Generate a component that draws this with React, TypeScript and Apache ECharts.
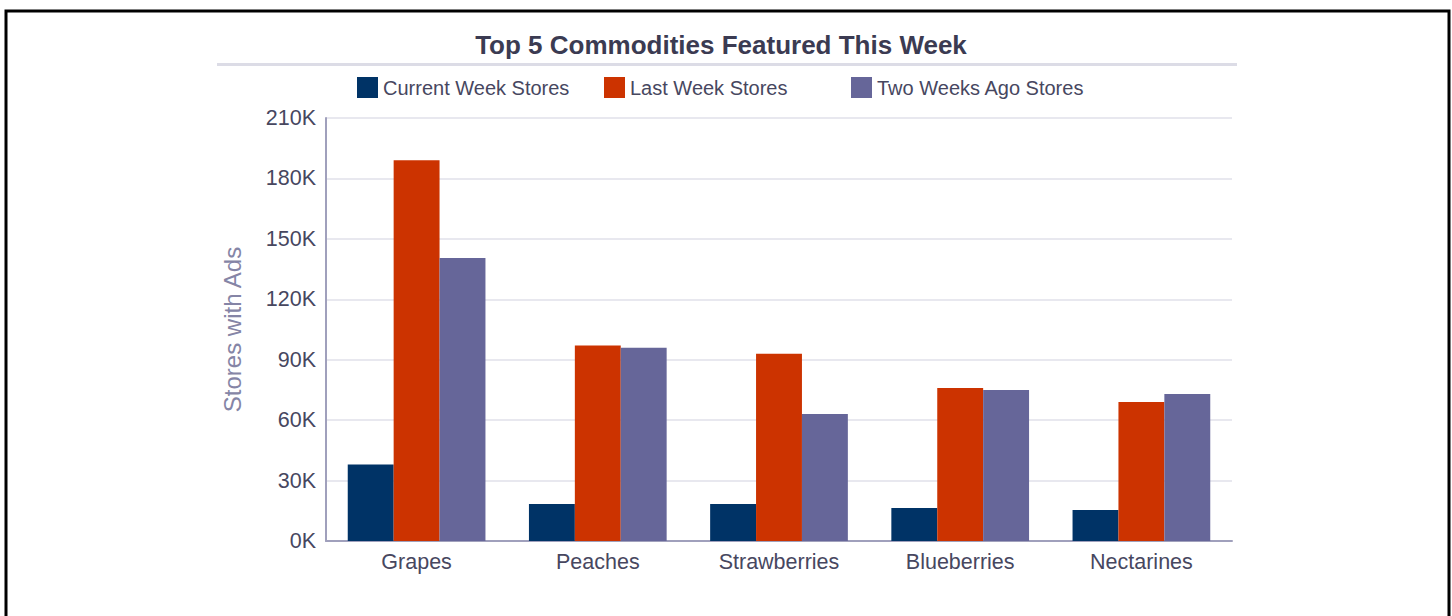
import React, { useEffect, useRef } from "react";
import * as echarts from "echarts";

const categories = ["Grapes", "Peaches", "Strawberries", "Blueberries", "Nectarines"];
const currentWeek = [38000, 18400, 18400, 16400, 15400];
const lastWeek = [189000, 97000, 93000, 76000, 69000];
const twoWeeksAgo = [140500, 96000, 63000, 75000, 73000];
const seriesNames = ["Current Week Stores", "Last Week Stores", "Two Weeks Ago Stores"];
const colors = ["#003366", "#cc3300", "#666699"];

const FONT = "'Liberation Sans', Arial, sans-serif";

export default function App() {
  const ref = useRef<HTMLDivElement>(null);
  useEffect(() => {
    if (!ref.current) return;
    const chart = echarts.init(ref.current, undefined, { renderer: "svg" });
    const legendLefts = [357, 604, 851];
    const data = [currentWeek, lastWeek, twoWeeksAgo];
    chart.setOption({
      animation: false,
      backgroundColor: "#ffffff",
      textStyle: { fontFamily: FONT },
      title: {
        text: "Top 5 Commodities Featured This Week",
        left: 716,
        top: 27,
        textAlign: "center",
        textStyle: { fontFamily: FONT, fontSize: 26, fontWeight: "bold", color: "#3b3b52" },
      },
      legend: seriesNames.map((n, i) => ({
        data: [n],
        left: legendLefts[i],
        top: 77,
        itemWidth: 21,
        itemHeight: 21,
        icon: "rect",
        padding: 0,
        selectedMode: false,
        textStyle: { fontFamily: FONT, fontSize: 20, color: "#47475f" },
      })),
      grid: { left: 326, right: 220, top: 118, bottom: 75, containLabel: false },
      xAxis: {
        type: "category",
        data: categories,
        axisLine: { lineStyle: { color: "#a0a0bc", width: 2 } },
        axisTick: { show: false },
        axisLabel: { fontFamily: FONT, fontSize: 21.5, color: "#47475f", margin: 10 },
      },
      yAxis: {
        type: "value",
        min: 0,
        max: 210000,
        interval: 30000,
        name: "Stores with Ads",
        nameLocation: "middle",
        nameGap: 82,
        nameTextStyle: { fontFamily: FONT, fontSize: 24, color: "#8585a6" },
        axisLine: { show: true, lineStyle: { color: "#a0a0bc", width: 2 } },
        axisTick: { show: false },
        axisLabel: {
          fontFamily: FONT,
          fontSize: 21.5,
          color: "#47475f",
          margin: 10,
          formatter: (v: number) => v / 1000 + "K",
        },
        splitLine: { lineStyle: { color: "#e0e0ea", width: 1.5 } },
      },
      series: seriesNames.map((n, i) => ({
        name: n,
        type: "bar",
        data: data[i],
        barGap: "0%",
        barCategoryGap: "24%",
        itemStyle: { color: colors[i] },
      })),
      graphic: [
        {
          type: "rect",
          shape: { x: 6, y: 11, width: 1443, height: 700 },
          style: { fill: "none", stroke: "#000000", lineWidth: 3 },
          silent: true,
        },
        {
          type: "rect",
          shape: { x: 217, y: 63, width: 1020, height: 3 },
          style: { fill: "#dcdce6" },
          silent: true,
        },
      ],
    });
    return () => chart.dispose();
  }, []);
  return (
    <div
      ref={ref}
      style={{ position: "fixed", left: 0, top: 0, width: 1452, height: 616 }}
    />
  );
}
